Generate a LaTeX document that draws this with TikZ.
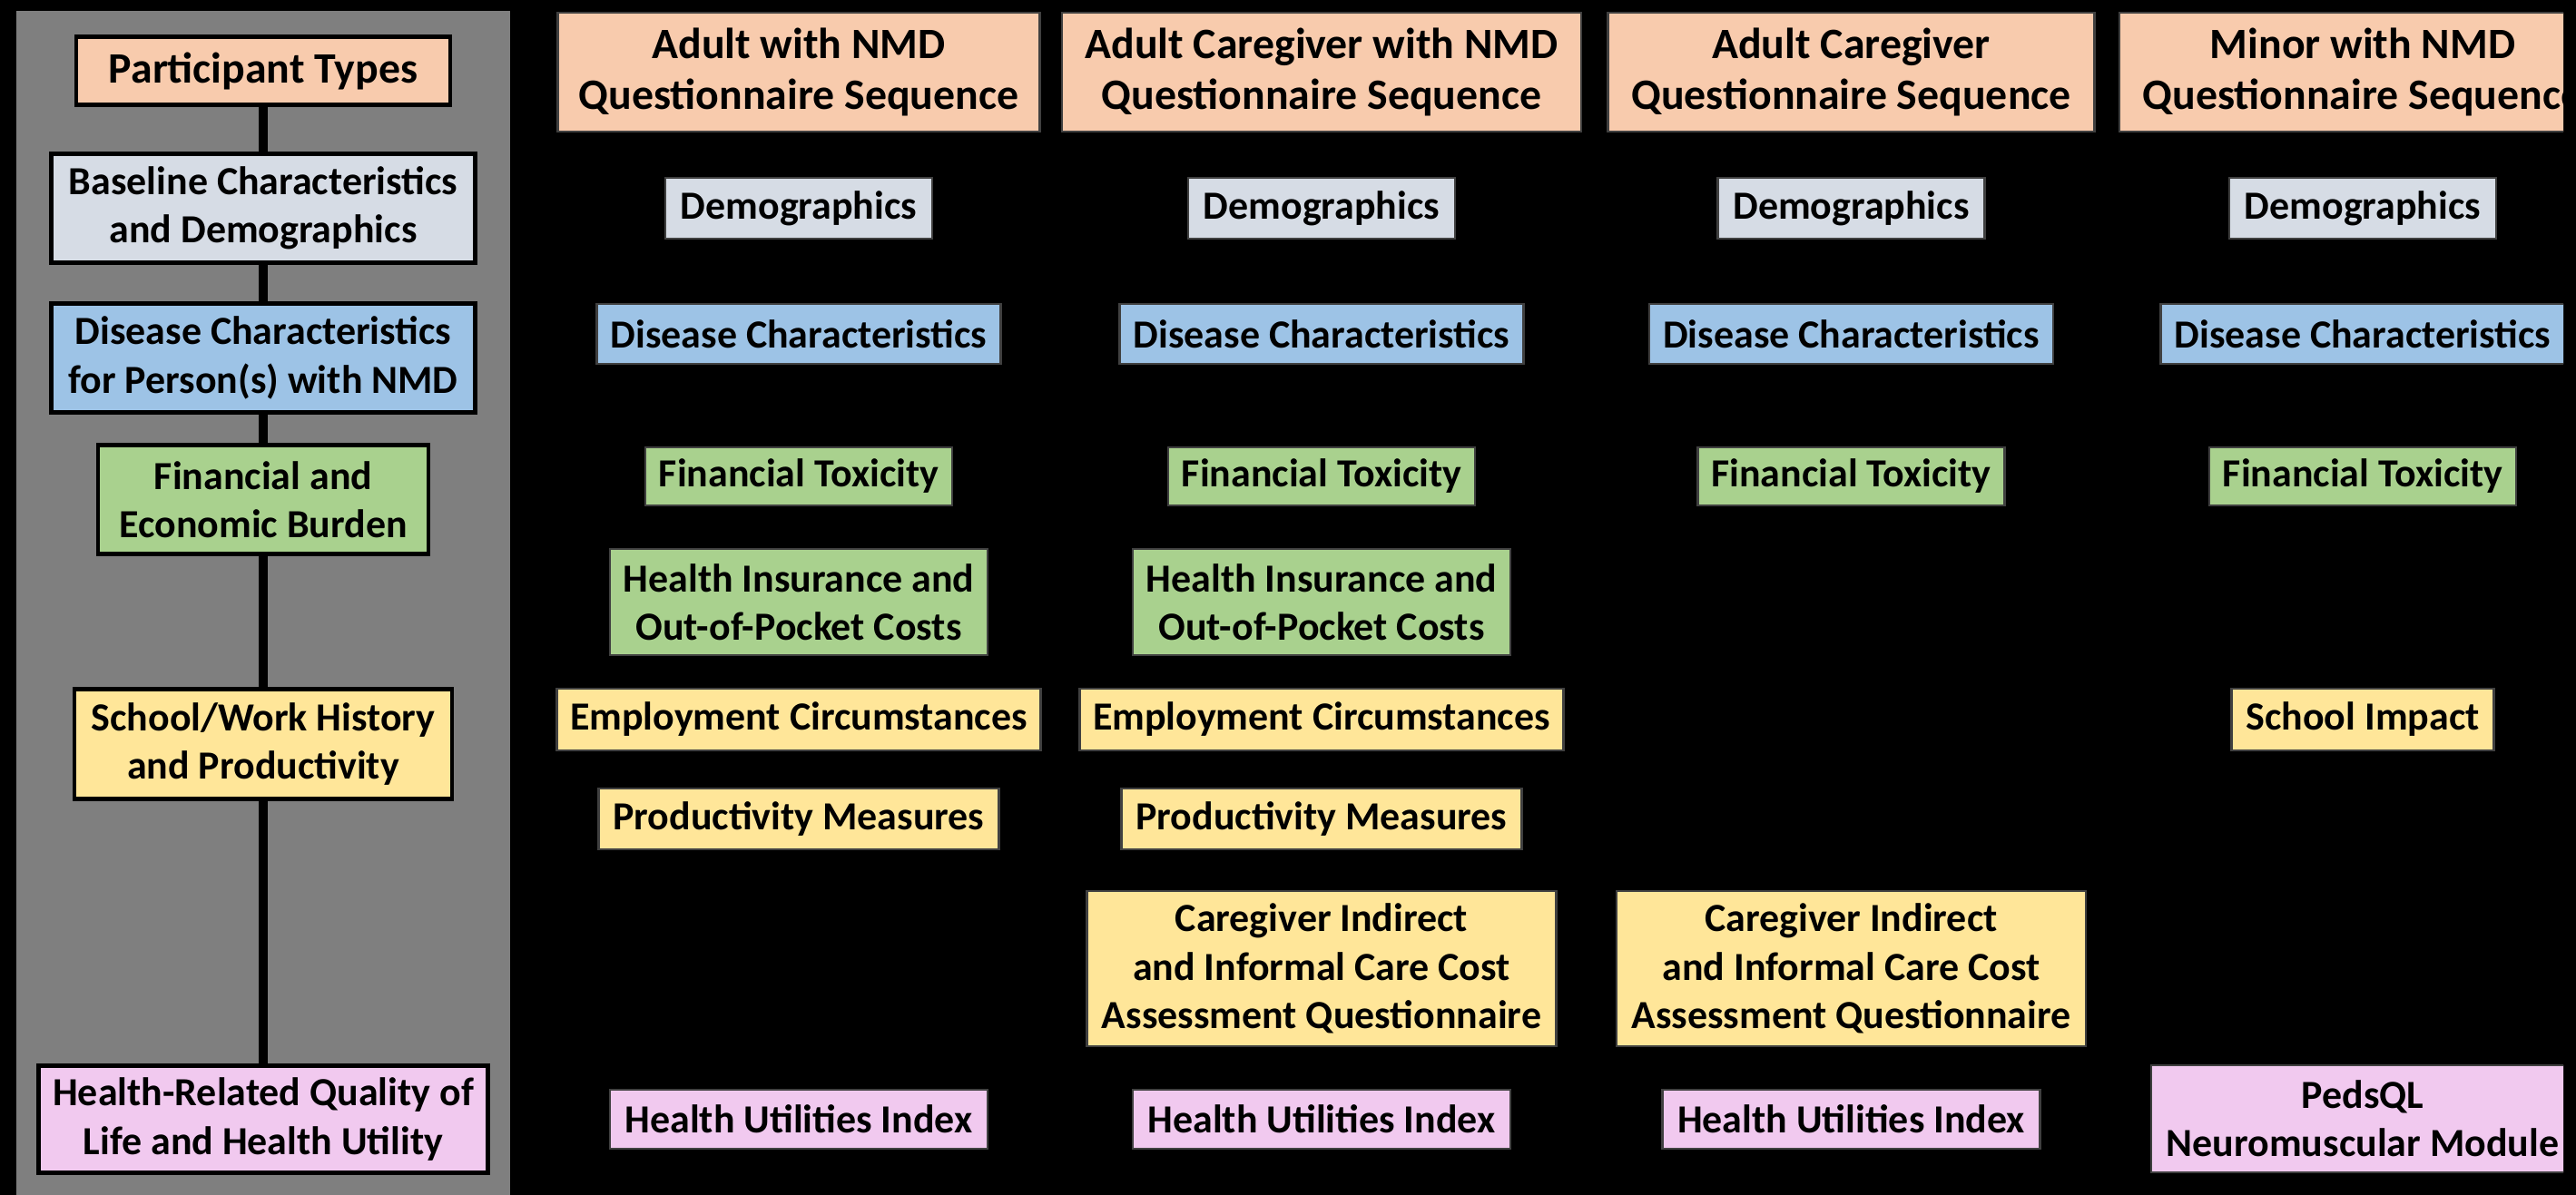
\documentclass[tikz,border=0pt]{standalone}
\usepackage{fontspec}
\setmainfont{Carlito}

\definecolor{headpeach}{RGB}{248,203,173}
\definecolor{demogrey}{RGB}{214,220,229}
\definecolor{diseaseblue}{RGB}{157,195,230}
\definecolor{fingreen}{RGB}{169,209,142}
\definecolor{workyellow}{RGB}{255,230,153}
\definecolor{qolpink}{RGB}{241,201,239}
\definecolor{panelgrey}{RGB}{127,127,127}

\tikzset{
  boxtext/.style={align=center, inner sep=0pt, text=black,
    font=\bfseries\fontsize{12.5}{15.2}\selectfont},
  headtext/.style={font=\bfseries\fontsize{13.6}{16}\selectfont},
  category/.style={boxtext, draw=black, line width=1.4pt},
  measure/.style={boxtext, draw=black!75, line width=0.6pt},
  link/.style={line width=2.6pt, black},
}

\begin{document}
\begin{tikzpicture}
    % page and grey panel for the category column
    \fill[black] (0,0) rectangle (28.38,-13.17);
    \fill[panelgrey] (0.18,-0.12) rectangle (5.62,-13.17);

    % categories
    \node[category, headtext, fill=headpeach, minimum width=4.12cm, minimum height=0.75cm] (types) at (2.90,-0.78) {Participant Types};
    \node[category, fill=demogrey, minimum width=4.67cm, minimum height=1.20cm] (baseline) at (2.90,-2.295) {Baseline Characteristics\\and Demographics};
    \node[category, fill=diseaseblue, minimum width=4.67cm, minimum height=1.20cm] (disease) at (2.90,-3.945) {Disease Characteristics\\for Person(s) with NMD};
    \node[category, fill=fingreen, minimum width=3.64cm, minimum height=1.20cm] (finance) at (2.90,-5.505) {Financial and\\Economic Burden};
    \node[category, fill=workyellow, minimum width=4.16cm, minimum height=1.21cm] (work) at (2.90,-8.20) {School/Work History\\and Productivity};
    \node[category, fill=qolpink, minimum width=4.95cm, minimum height=1.18cm] (qol) at (2.90,-12.335) {Health-Related Quality of\\Life and Health Utility};

    \draw[link] (types) -- (baseline);
    \draw[link] (baseline) -- (disease);
    \draw[link] (disease) -- (finance);
    \draw[link] (finance) -- (work);
    \draw[link] (work) -- (qol);

    \begin{scope}
    \clip (0,0) rectangle (28.24,-13.17);

    % questionnaire sequences
    \node[measure, headtext, fill=headpeach, minimum width=5.31cm, minimum height=1.31cm] (adult) at (8.80,-0.795) {Adult with NMD\\Questionnaire Sequence};
    \node[measure, headtext, fill=headpeach, minimum width=5.72cm, minimum height=1.31cm] (carenmd) at (14.56,-0.795) {Adult Caregiver with NMD\\Questionnaire Sequence};
    \node[measure, headtext, fill=headpeach, minimum width=5.36cm, minimum height=1.31cm] (carer) at (20.395,-0.795) {Adult Caregiver\\Questionnaire Sequence};
    \node[measure, headtext, fill=headpeach, minimum width=5.36cm, minimum height=1.31cm] (minor) at (26.03,-0.795) {Minor with NMD\\Questionnaire Sequence};

    % adult with NMD
    \node[measure, fill=demogrey, minimum width=2.94cm, minimum height=0.67cm] (demoA) at (8.80,-2.295) {Demographics};
    \node[measure, fill=diseaseblue, minimum width=4.45cm, minimum height=0.66cm] (disA) at (8.80,-3.68) {Disease Characteristics};
    \node[measure, fill=fingreen, minimum width=3.38cm, minimum height=0.64cm] (toxA) at (8.80,-5.25) {Financial Toxicity};
    \node[measure, fill=fingreen, minimum width=4.16cm, minimum height=1.17cm] (insA) at (8.80,-6.635) {Health Insurance and\\Out-of-Pocket Costs};
    \node[measure, fill=workyellow, minimum width=5.33cm, minimum height=0.68cm] (empA) at (8.80,-7.93) {Employment Circumstances};
    \node[measure, fill=workyellow, minimum width=4.41cm, minimum height=0.67cm] (prodA) at (8.80,-9.025) {Productivity Measures};
    \node[measure, fill=qolpink, minimum width=4.16cm, minimum height=0.65cm] (huiA) at (8.80,-12.335) {Health Utilities Index};

    % adult caregiver with NMD
    \node[measure, fill=demogrey, minimum width=2.94cm, minimum height=0.67cm] (demoB) at (14.56,-2.295) {Demographics};
    \node[measure, fill=diseaseblue, minimum width=4.45cm, minimum height=0.66cm] (disB) at (14.56,-3.68) {Disease Characteristics};
    \node[measure, fill=fingreen, minimum width=3.38cm, minimum height=0.64cm] (toxB) at (14.56,-5.25) {Financial Toxicity};
    \node[measure, fill=fingreen, minimum width=4.16cm, minimum height=1.17cm] (insB) at (14.56,-6.635) {Health Insurance and\\Out-of-Pocket Costs};
    \node[measure, fill=workyellow, minimum width=5.33cm, minimum height=0.68cm] (empB) at (14.56,-7.93) {Employment Circumstances};
    \node[measure, fill=workyellow, minimum width=4.41cm, minimum height=0.67cm] (prodB) at (14.56,-9.025) {Productivity Measures};
    \node[measure, fill=workyellow, minimum width=5.17cm, minimum height=1.71cm] (costB) at (14.56,-10.675) {Caregiver Indirect\\and Informal Care Cost\\Assessment Questionnaire};
    \node[measure, fill=qolpink, minimum width=4.16cm, minimum height=0.65cm] (huiB) at (14.56,-12.335) {Health Utilities Index};

    % adult caregiver
    \node[measure, fill=demogrey, minimum width=2.94cm, minimum height=0.67cm] (demoC) at (20.395,-2.295) {Demographics};
    \node[measure, fill=diseaseblue, minimum width=4.45cm, minimum height=0.66cm] (disC) at (20.395,-3.68) {Disease Characteristics};
    \node[measure, fill=fingreen, minimum width=3.38cm, minimum height=0.64cm] (toxC) at (20.395,-5.25) {Financial Toxicity};
    \node[measure, fill=workyellow, minimum width=5.17cm, minimum height=1.71cm] (costC) at (20.395,-10.675) {Caregiver Indirect\\and Informal Care Cost\\Assessment Questionnaire};
    \node[measure, fill=qolpink, minimum width=4.16cm, minimum height=0.65cm] (huiC) at (20.395,-12.335) {Health Utilities Index};

    % minor with NMD
    \node[measure, fill=demogrey, minimum width=2.94cm, minimum height=0.67cm] (demoD) at (26.03,-2.295) {Demographics};
    \node[measure, fill=diseaseblue, minimum width=4.45cm, minimum height=0.66cm] (disD) at (26.03,-3.68) {Disease Characteristics};
    \node[measure, fill=fingreen, minimum width=3.38cm, minimum height=0.64cm] (toxD) at (26.03,-5.25) {Financial Toxicity};
    \node[measure, fill=workyellow, minimum width=2.89cm, minimum height=0.68cm] (schoolD) at (26.03,-7.93) {School Impact};
    \node[measure, fill=qolpink, minimum width=4.66cm, minimum height=1.18cm] (pedsD) at (26.03,-12.33) {PedsQL\\Neuromuscular Module};
    \end{scope}
\end{tikzpicture}
\end{document}
